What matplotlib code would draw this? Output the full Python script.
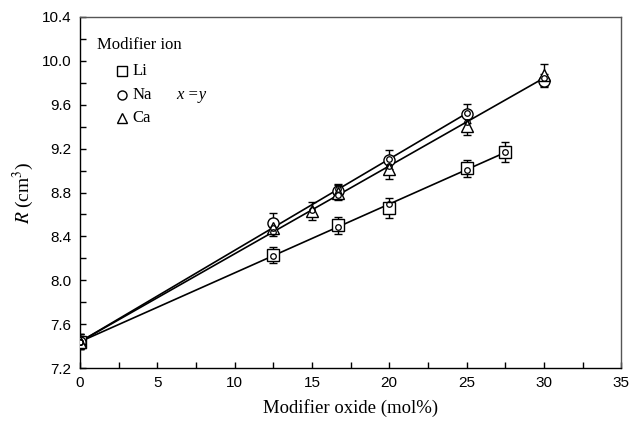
import numpy as np
import matplotlib
matplotlib.use("Agg")
import matplotlib.pyplot as plt

plt.rcParams["mathtext.fontset"] = "stix"

# measured molar refraction vs modifier oxide content
x_li = [0, 12.5, 16.7, 20, 25, 27.5]
r_li = [7.44, 8.23, 8.50, 8.66, 9.02, 9.17]
e_li = [0.07, 0.07, 0.08, 0.09, 0.08, 0.09]

x_na = [0, 12.5, 16.7, 20, 25, 30]
r_na = [7.44, 8.52, 8.81, 9.10, 9.52, 9.82]
e_na = [0.07, 0.09, 0.07, 0.09, 0.09, 0.06]

x_ca = [0, 12.5, 15, 16.7, 20, 25, 30]
r_ca = [7.44, 8.48, 8.63, 8.80, 9.01, 9.41, 9.87]
e_ca = [0.07, 0.08, 0.085, 0.07, 0.09, 0.09, 0.1]

# x range covered by each fitted line
fit_end = [27.5, 25, 30]

serif = "Liberation Serif"
sans = "Liberation Sans"

fig, ax = plt.subplots(figsize=(6.3, 4.25), dpi=100)
fig.subplots_adjust(left=0.127, right=0.986, bottom=0.134, top=0.96)

series = [(x_li, r_li, e_li, "s"), (x_na, r_na, e_na, "o"), (x_ca, r_ca, e_ca, "^")]
for (xs, rs, es, mk), xe in zip(series, fit_end):
    xs = np.array(xs)
    rs = np.array(rs)
    # line through the common glass point at x = 0
    sel = xs <= xe
    x0, r0 = xs[0], rs[0]
    k = np.sum((xs[sel] - x0) * (rs[sel] - r0)) / np.sum((xs[sel] - x0) ** 2)
    xl = np.array([0, xe])
    ax.plot(xl, r0 + k * xl, color="black", lw=1.2, zorder=2)
    ax.errorbar(xs, rs, yerr=es, fmt=mk, ms=8, mfc="white", mec="black", mew=1.0,
                ecolor="black", elinewidth=1.0, capsize=3, capthick=1.0, zorder=3)
    # x = y points on the fitted line
    ax.plot(xs[sel], r0 + k * xs[sel], "o", ms=4, mfc="none", mec="black", mew=0.9, zorder=4)

ax.set_xlim(0, 35)
ax.set_ylim(7.2, 10.4)
ax.set_xticks(np.arange(0, 36, 5))
ax.set_xticks(np.arange(0, 35, 2.5), minor=True)
ax.set_yticks(np.arange(7.2, 10.41, 0.4))
ax.set_yticks(np.arange(7.2, 10.4, 0.2), minor=True)
ax.set_yticklabels([f"{v:.1f}" for v in np.arange(7.2, 10.41, 0.4)])
ax.tick_params(which="both", direction="in", length=4, width=1, top=False, right=False)
ax.tick_params(which="major", labelsize=11, pad=6)
for lab in ax.get_xticklabels() + ax.get_yticklabels():
    lab.set_family(sans)
for s in ax.spines.values():
    s.set_linewidth(1.0)
ax.spines["right"].set_color("#555555")
ax.spines["top"].set_color("#555555")

ax.set_xlabel("Modifier oxide (mol%)", family=serif, fontsize=13.5, labelpad=6)
ax.set_ylabel(r"$R\;$(cm$^3$)", family=serif, fontsize=14, labelpad=4)

# legend
ax.text(0.031, 0.92, "Modifier ion", transform=ax.transAxes, family=serif,
        fontsize=12, va="center")
for i, (lab, mk) in enumerate([("Li", "s"), ("Na", "o"), ("Ca", "^")]):
    y = 0.845 - i * 0.066
    ax.plot([0.078], [y], mk, ms=6.5, mfc="white", mec="black", mew=1.0,
            transform=ax.transAxes, clip_on=False)
    ax.text(0.097, y, lab, transform=ax.transAxes, family=serif, fontsize=12, va="center")
ax.text(0.178, 0.779, "x =y", transform=ax.transAxes, family=serif, style="italic",
        fontsize=12, va="center")

fig.savefig("out.png", dpi=100)
